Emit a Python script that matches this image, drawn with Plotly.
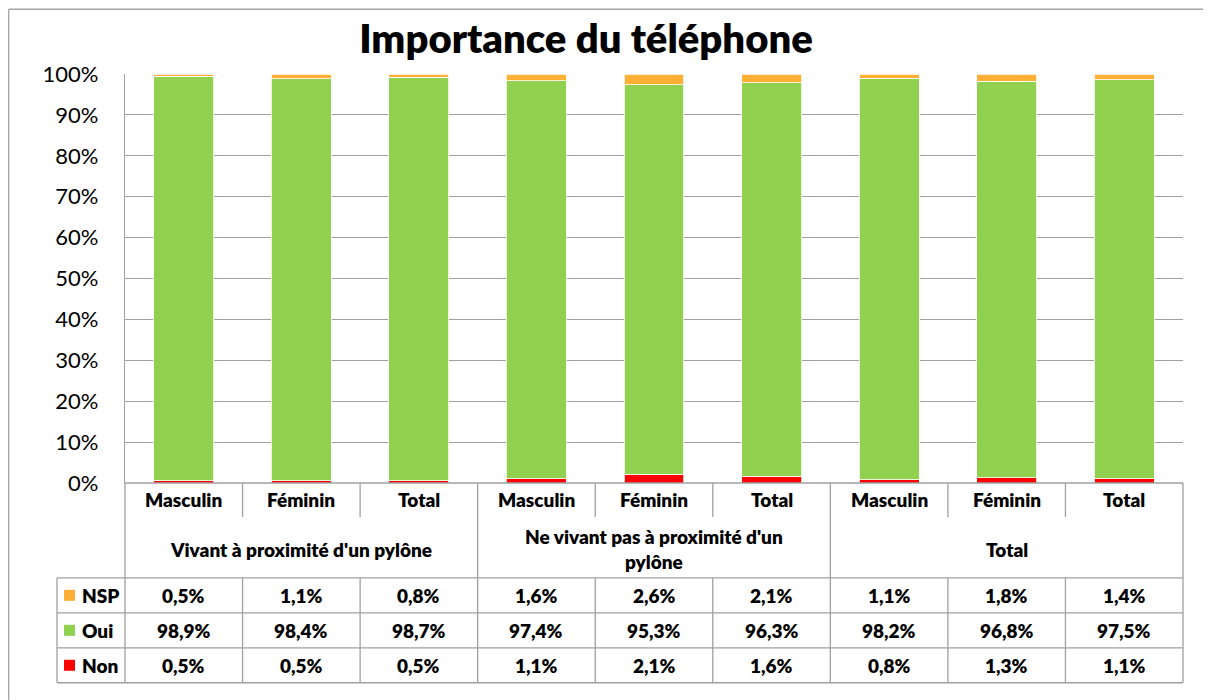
import plotly.graph_objects as go

categories = ["Masculin", "Féminin", "Total"] * 3
groups = ["Vivant à proximité d'un pylône",
          "Ne vivant pas à proximité d'un<br>pylône",
          "Total"]
series_names = ["NSP", "Oui", "Non"]
nsp = [0.5, 1.1, 0.8, 1.6, 2.6, 2.1, 1.1, 1.8, 1.4]
oui = [98.9, 98.4, 98.7, 97.4, 95.3, 96.3, 98.2, 96.8, 97.5]
non = [0.5, 0.5, 0.5, 1.1, 2.1, 1.6, 0.8, 1.3, 1.1]
colors = {"NSP": "#FFAF33", "Oui": "#92D050", "Non": "#FF0000"}
values = {"NSP": nsp, "Oui": oui, "Non": non}

# the page body has an 8px margin; work in page pixels and shift
OFF = 8
W, H = 1211 - OFF, 700 - OFF
L, R, T, B = 125, 1183, 73.5, 483   # page pixels of the plot area
FONT = "Lato"
GRID = "#A0A0A0"

def px_x(px):
    return (px - L) / (R - L)

def px_y(py):
    return (B - py) / (B - T)

n = len(categories)
xs = list(range(n))

fig = go.Figure()
for name in ["Non", "Oui", "NSP"]:
    fig.add_trace(go.Bar(
        x=xs, y=values[name], name=name,
        marker=dict(color=colors[name], line=dict(color="white", width=0.8)),
        width=0.51,
    ))

shapes = []
annotations = []

def line(x0, y0, x1, y1, w=1.3, color=GRID):
    shapes.append(dict(type="line", xref="paper", yref="paper",
                       x0=x0, y0=y0, x1=x1, y1=y1,
                       line=dict(color=color, width=w)))

cat_top, cat_bot = 483, 517
grp_bot = 578
row_edges = [578, 613, 648, 683]
leg_left = 57

line(0, px_y(cat_top), 1, px_y(cat_top))
for ry in row_edges:
    line(px_x(leg_left), px_y(ry), 1, px_y(ry))
line(px_x(leg_left), px_y(row_edges[0]), px_x(leg_left), px_y(row_edges[-1]))
for i in range(n + 1):
    xp = i / n
    if i % 3 == 0:
        line(xp, px_y(cat_top), xp, px_y(row_edges[-1]))
    else:
        line(xp, px_y(cat_top), xp, px_y(cat_bot))
        line(xp, px_y(grp_bot), xp, px_y(row_edges[-1]))

# outer chart border: only its left and top edges fall inside the view
line(px_x(OFF + 0.7), px_y(OFF + 0.7), px_x(1211), px_y(OFF + 0.7), w=1.4, color="#A6A6A6")
line(px_x(OFF + 0.7), px_y(OFF + 0.7), px_x(OFF + 0.7), px_y(700), w=1.4, color="#A6A6A6")

TXT = dict(family=FONT, size=19, color="black", weight=800)
for i, c in enumerate(categories):
    annotations.append(dict(xref="x", yref="paper", x=i, y=px_y((cat_top + cat_bot) / 2),
                            text=c, showarrow=False, font=TXT,
                            xanchor="center", yanchor="middle"))
for g, gl in enumerate(groups):
    annotations.append(dict(xref="x", yref="paper", x=g * 3 + 1, y=px_y((cat_bot + grp_bot) / 2 + 2),
                            text=gl, showarrow=False, font=TXT,
                            xanchor="center", yanchor="middle"))
for r, name in enumerate(series_names):
    yc = (row_edges[r] + row_edges[r + 1]) / 2
    for i, v in enumerate(values[name]):
        annotations.append(dict(xref="x", yref="paper", x=i, y=px_y(yc),
                                text="%s%%" % ("%.1f" % v).replace(".", ","),
                                showarrow=False, font=TXT,
                                xanchor="center", yanchor="middle"))
    shapes.append(dict(type="rect", xref="paper", yref="paper",
                       x0=px_x(64), x1=px_x(75), y0=px_y(yc - 5.5), y1=px_y(yc + 5.5),
                       fillcolor=colors[name], line=dict(width=0)))
    annotations.append(dict(xref="paper", yref="paper", x=px_x(80), y=px_y(yc),
                            text=name, showarrow=False, font=TXT,
                            xanchor="left", yanchor="middle"))

fig.update_layout(
    width=W, height=H,
    margin=dict(l=L - OFF, r=W - (R - OFF), t=T - OFF, b=H - (B - OFF), pad=0),
    barmode="stack", barnorm="percent",
    plot_bgcolor="white", paper_bgcolor="white",
    showlegend=False,
    title=dict(text="Importance du téléphone", x=(586 - OFF) / W, xref="container",
               y=1 - (39 - OFF) / H, yref="container", xanchor="center", yanchor="middle",
               font=dict(family=FONT, size=40, color="black", weight=800)),
    xaxis=dict(range=[-0.5, n - 0.5], showticklabels=False, showgrid=False,
               zeroline=False, showline=False, ticks=""),
    yaxis=dict(range=[0, 100], dtick=10, ticksuffix="%", showgrid=True,
               gridcolor=GRID, gridwidth=1.3, zeroline=False,
               showline=True, linecolor=GRID, linewidth=1.3,
               ticks="", ticklabelstandoff=21,
               tickfont=dict(family=FONT, size=22, color="black")),
    shapes=shapes, annotations=annotations,
    bargap=0.49,
)

fig.write_html("out.html")
